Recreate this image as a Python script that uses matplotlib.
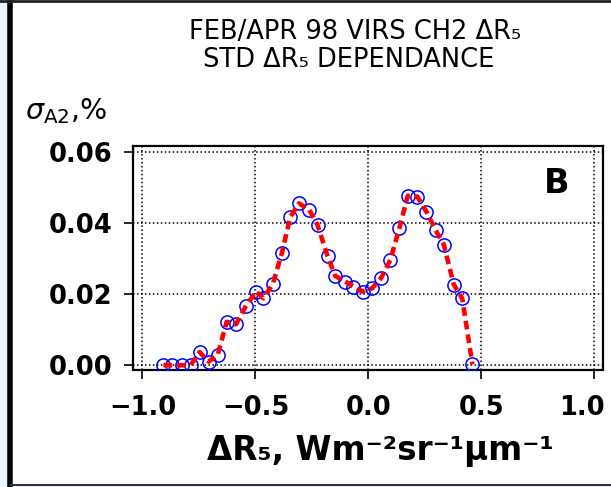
import matplotlib
matplotlib.use("Agg")
import matplotlib.pyplot as plt
from matplotlib.patches import Rectangle
from matplotlib.lines import Line2D
from matplotlib.transforms import ScaledTranslation

# delta R5 bin centres and std of A2 (%)
dr5 = [-0.907, -0.867, -0.827, -0.787, -0.747, -0.707, -0.667, -0.627,
       -0.586, -0.542, -0.497, -0.465, -0.423, -0.383, -0.346, -0.307,
       -0.261, -0.225, -0.181, -0.147, -0.102, -0.066, -0.026, 0.016,
       0.057, 0.097, 0.137, 0.174, 0.216, 0.257, 0.297, 0.334,
       0.378, 0.415, 0.460]
std_a2 = [0.0000, 0.0000, 0.0000, 0.0000, 0.0037, 0.0010, 0.0029, 0.0122,
          0.0115, 0.0167, 0.0207, 0.0188, 0.0228, 0.0315, 0.0416, 0.0455,
          0.0436, 0.0394, 0.0307, 0.0251, 0.0235, 0.0221, 0.0207, 0.0216,
          0.0246, 0.0296, 0.0385, 0.0476, 0.0474, 0.0431, 0.0380, 0.0338,
          0.0226, 0.0188, 0.0003]

xticks = [-1.0, -0.5, 0.0, 0.5, 1.0]
xticklabels = ["−1.0", "−0.5", "0.0", "0.5", "1.0"]
yticks = [0.00, 0.02, 0.04, 0.06]
yticklabels = ["0.00", "0.02", "0.04", "0.06"]
title_lines = ["FEB/APR 98 VIRS CH2 ΔR₅", "STD ΔR₅ DEPENDANCE"]
xlabel = "ΔR₅, Wm⁻²sr⁻¹µm⁻¹"
panel = "B"

W, H = 611, 487
fig = plt.figure(figsize=(W / 100, H / 100), dpi=100, facecolor="#eaf4fd")

# white page with black frame
fig.patches.append(Rectangle((10 / W, 2 / H), 1.0, 1.0, transform=fig.transFigure,
                             facecolor="white", edgecolor="none", zorder=-2))
fig.lines.append(Line2D([10 / W, 10 / W], [0, 1], transform=fig.transFigure,
                        color="black", lw=4.0))
fig.lines.append(Line2D([0, 1], [1 - 1 / H, 1 - 1 / H], transform=fig.transFigure,
                        color="#222222", lw=2.0))
fig.lines.append(Line2D([10 / W, 1], [2 / H, 2 / H], transform=fig.transFigure,
                        color="#333333", lw=1.5))

ax = fig.add_axes([132.7 / W, 1 - 369.5 / H, (603 - 132.7) / W, (369.5 - 146) / H])

ax.plot(dr5, std_a2, linestyle="none", marker="o", mfc="none", mec="#0000ff",
        ms=9.5, mew=1.1, zorder=3)
ax.plot(dr5, std_a2, color="#ff0000", lw=3.3, dashes=(1.9, 1.1), zorder=4)

ax.set_xlim(-1.043, 1.038)
ax.set_ylim(-0.0012, 0.0616)
ax.set_xticks(xticks)
ax.set_yticks(yticks)
ax.set_xticklabels(xticklabels)
ax.set_yticklabels(yticklabels)
ax.grid(True, color="black", linestyle=(0, (1, 1.6)), lw=1.1)

for s in ax.spines.values():
    s.set_linewidth(1.6)
ax.tick_params(direction="out", length=6.5, width=1.2, labelsize=18.5)
ax.tick_params(axis="x", pad=12)
ax.tick_params(axis="y", pad=8)
for lab in ax.get_xticklabels() + ax.get_yticklabels():
    lab.set_fontweight("bold")
    lab.set_family(["DejaVu Sans"])
# keep the last x label inside the page
last = ax.get_xticklabels()[-1]
last.set_transform(last.get_transform() + ScaledTranslation(-12 / 100, 0, fig.dpi_scale_trans))

fig.text(557 / W, 1 - 183 / H, panel, ha="center", va="center",
         fontsize=24, fontweight="bold", family=["DejaVu Sans"])

fig.text(355 / W, 1 - 39 / H, title_lines[0], ha="center", va="baseline",
         fontsize=18.5, family=["DejaVu Sans"])
fig.text(349 / W, 1 - 67 / H, title_lines[1], ha="center", va="baseline",
         fontsize=18.5, family=["DejaVu Sans"])
fig.text(25 / W, 1 - 119 / H, r"$\sigma_{\rm A2}$,%", ha="left", va="baseline",
         fontsize=20.5, family=["DejaVu Sans"])
fig.text(380 / W, 1 - 460 / H, xlabel, ha="center", va="baseline",
         fontsize=23.5, fontweight="bold", family=["DejaVu Sans"])

fig.savefig("out.png", dpi=100, facecolor=fig.get_facecolor())
